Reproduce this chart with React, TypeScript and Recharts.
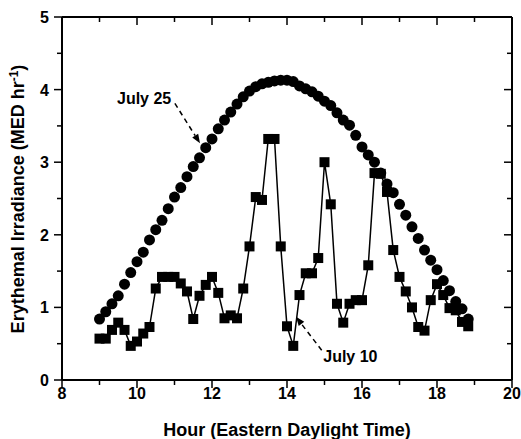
import React from 'react';
import {
  ComposedChart,
  Line,
  XAxis,
  YAxis,
  Label,
  ReferenceLine,
  ReferenceDot,
} from 'recharts';

// Sampling times (hours, EDT), every 10 minutes
const hours = [
  9.0, 9.167, 9.333, 9.5, 9.667, 9.833, 10.0, 10.167, 10.333, 10.5,
  10.667, 10.833, 11.0, 11.167, 11.333, 11.5, 11.667, 11.833, 12.0, 12.167,
  12.333, 12.5, 12.667, 12.833, 13.0, 13.167, 13.333, 13.5, 13.667, 13.833,
  14.0, 14.167, 14.333, 14.5, 14.667, 14.833, 15.0, 15.167, 15.333, 15.5,
  15.667, 15.833, 16.0, 16.167, 16.333, 16.5, 16.667, 16.833, 17.0, 17.167,
  17.333, 17.5, 17.667, 17.833, 18.0, 18.167, 18.333, 18.5, 18.667, 18.833,
];

// Clear-sky day
const july25 = [
  0.84, 0.94, 1.05, 1.16, 1.32, 1.48, 1.63, 1.76, 1.93, 2.07,
  2.2, 2.36, 2.52, 2.65, 2.8, 2.94, 3.06, 3.2, 3.32, 3.46,
  3.58, 3.69, 3.8, 3.9, 3.98, 4.04, 4.08, 4.1, 4.12, 4.13,
  4.13, 4.11, 4.05, 4.01, 3.97, 3.91, 3.84, 3.78, 3.68, 3.58,
  3.51, 3.37, 3.21, 3.1, 3.0, 2.85, 2.7, 2.58, 2.42, 2.27,
  2.11, 1.95, 1.79, 1.65, 1.52, 1.37, 1.23, 1.08, 0.98, 0.84,
];

// Cloudy day
const july10 = [
  0.57, 0.57, 0.69, 0.79, 0.69, 0.47, 0.53, 0.64, 0.73, 1.26,
  1.42, 1.42, 1.42, 1.33, 1.22, 0.84, 1.16, 1.31, 1.42, 1.2,
  0.85, 0.89, 0.85, 1.26, 1.84, 2.52, 2.48, 3.32, 3.32, 1.84,
  0.74, 0.47, 1.17, 1.47, 1.47, 1.68, 3.0, 2.42, 1.05, 0.79,
  1.05, 1.1, 1.1, 1.58, 2.85, 2.84, 2.59, 1.79, 1.42, 1.22,
  1.0, 0.73, 0.68, 1.1, 1.32, 1.17, 0.99, 0.96, 0.8, 0.74,
];

const xTicks = [8, 9, 10, 11, 12, 13, 14, 15, 16, 17, 18, 19, 20];
const yTicks = [0, 0.5, 1, 1.5, 2, 2.5, 3, 3.5, 4, 4.5, 5];
const X_MIN = 8;
const X_MAX = 20;
const Y_MIN = 0;
const Y_MAX = 5;

const data = hours.map((h, i) => ({ hour: h, july25: july25[i], july10: july10[i] }));

// Chart geometry
const CHART_W = 521;
const CHART_H = 439;
const MARGIN = { top: 17, right: 9, bottom: 0, left: 0 };
const Y_AXIS_W = 62;
const X_AXIS_H = 59;
const PLOT_L = MARGIN.left + Y_AXIS_W;
const PLOT_T = MARGIN.top;
const PLOT_W = CHART_W - MARGIN.left - MARGIN.right - Y_AXIS_W;
const PLOT_H = CHART_H - MARGIN.top - MARGIN.bottom - X_AXIS_H;
const PLOT_R = PLOT_L + PLOT_W;
const PLOT_B = PLOT_T + PLOT_H;

const FONT = '"Liberation Sans", Arial, Helvetica, sans-serif';
const INK = '#000';

const isMajorX = (v: number) => v % 2 === 0;
const isMajorY = (v: number) => Number.isInteger(v);

const BottomTick = (props: any) => {
  const { x, y, payload } = props;
  const v = payload.value;
  const major = isMajorX(v);
  return (
    <g>
      <line x1={x} y1={y} x2={x} y2={y + (major ? 8 : 5)} stroke={INK} strokeWidth={1.5} />
      {major && (
        <text x={x} y={y + 19} textAnchor="middle" fontFamily={FONT} fontWeight="bold" fontSize={16} fill={INK}>
          {v}
        </text>
      )}
    </g>
  );
};

const LeftTick = (props: any) => {
  const { x, y, payload } = props;
  const v = payload.value;
  const major = isMajorY(v);
  return (
    <g>
      <line x1={x - (major ? 8 : 5)} y1={y} x2={x} y2={y} stroke={INK} strokeWidth={1.5} />
      {major && (
        <text x={x - 13} y={y + 6} textAnchor="end" fontFamily={FONT} fontWeight="bold" fontSize={16} fill={INK}>
          {v}
        </text>
      )}
    </g>
  );
};

// Top and right edges of the box with inward mirror ticks, laid over the chart
const sx = (v: number) => PLOT_L + ((v - X_MIN) / (X_MAX - X_MIN)) * PLOT_W;
const sy = (v: number) => PLOT_B - ((v - Y_MIN) / (Y_MAX - Y_MIN)) * PLOT_H;

const FrameOverlay = () => (
  <svg
    width={CHART_W}
    height={CHART_H}
    style={{ position: 'absolute', left: 0, top: 0, pointerEvents: 'none' }}
  >
    <line x1={PLOT_L} y1={PLOT_T} x2={PLOT_R} y2={PLOT_T} stroke={INK} strokeWidth={2} />
    <line x1={PLOT_R} y1={PLOT_T} x2={PLOT_R} y2={PLOT_B} stroke={INK} strokeWidth={2} />
    {xTicks.map((t) => (
      <line
        key={`tt-${t}`}
        x1={sx(t)}
        y1={PLOT_T}
        x2={sx(t)}
        y2={PLOT_T + (isMajorX(t) ? 8 : 5)}
        stroke={INK}
        strokeWidth={1.5}
      />
    ))}
    {yTicks.map((t) => (
      <line
        key={`rt-${t}`}
        x1={PLOT_R - (isMajorY(t) ? 8 : 5)}
        y1={sy(t)}
        x2={PLOT_R}
        y2={sy(t)}
        stroke={INK}
        strokeWidth={1.5}
      />
    ))}
  </svg>
);

const SquareDot = (p: any) => {
  if (p.cx == null || p.cy == null) return null;
  return <rect key={`sq-${p.index}`} x={p.cx - 5} y={p.cy - 5} width={10} height={10} fill={INK} />;
};

const DashedArrow = (p: any) => {
  const { x1, y1, x2, y2 } = p;
  const a = Math.atan2(y2 - y1, x2 - x1);
  const len = 9;
  const half = 3.5;
  const bx = x2 - len * Math.cos(a);
  const by = y2 - len * Math.sin(a);
  const nx = -Math.sin(a);
  const ny = Math.cos(a);
  return (
    <g>
      <line x1={x1} y1={y1} x2={bx} y2={by} stroke={INK} strokeWidth={1.5} strokeDasharray="5 4" />
      <polygon
        points={`${x2},${y2} ${bx + nx * half},${by + ny * half} ${bx - nx * half},${by - ny * half}`}
        fill={INK}
      />
    </g>
  );
};

const noteText = (text: string) => (p: any) => (
  <text x={p.cx} y={p.cy + 6} textAnchor="middle" fontFamily={FONT} fontWeight="bold" fontSize={16} fill={INK}>
    {text}
  </text>
);

const XTitle = () => (
  <text x={287} y={436} textAnchor="middle" fontFamily={FONT} fontWeight="bold" fontSize={18} fill={INK}>
    Hour (Eastern Daylight Time)
  </text>
);

const YTitle = () => (
  <text
    transform="translate(24,199) rotate(-90)"
    textAnchor="middle"
    fontFamily={FONT}
    fontWeight="bold"
    fontSize={18}
    fill={INK}
  >
    Erythemal Irradiance (MED hr
    <tspan dy={-6} fontSize={12}>-1</tspan>
    <tspan dy={6}>)</tspan>
  </text>
);

const axisLine = { stroke: INK, strokeWidth: 2 };

export default function App() {
  return (
    <div style={{ position: 'absolute', left: 0, top: 0, width: CHART_W, height: CHART_H, background: '#fff' }}>
      <ComposedChart width={CHART_W} height={CHART_H} data={data} margin={MARGIN}>
        <XAxis
          dataKey="hour"
          type="number"
          domain={[X_MIN, X_MAX]}
          ticks={xTicks}
          interval={0}
          height={X_AXIS_H}
          tickLine={false}
          tickSize={0}
          tickMargin={0}
          axisLine={axisLine}
          tick={<BottomTick />}
          allowDataOverflow
        >
          <Label content={<XTitle />} />
        </XAxis>
        <YAxis
          type="number"
          domain={[Y_MIN, Y_MAX]}
          ticks={yTicks}
          interval={0}
          width={Y_AXIS_W}
          tickLine={false}
          tickSize={0}
          tickMargin={0}
          axisLine={axisLine}
          tick={<LeftTick />}
          allowDataOverflow
        >
          <Label content={<YTitle />} />
        </YAxis>

        <Line
          dataKey="july10"
          stroke={INK}
          strokeWidth={1.5}
          dot={SquareDot}
          activeDot={false}
          isAnimationActive={false}
        />
        <Line
          dataKey="july25"
          stroke="none"
          dot={{ r: 5.5, fill: INK, stroke: 'none' }}
          activeDot={false}
          isAnimationActive={false}
        />
        <ReferenceLine segment={[{ x: 11.01, y: 3.81 }, { x: 11.68, y: 3.26 }]} shape={DashedArrow} />
        <ReferenceLine segment={[{ x: 14.925, y: 0.41 }, { x: 14.24, y: 0.87 }]} shape={DashedArrow} />
        <ReferenceDot x={10.19} y={3.89} r={0} shape={noteText('July 25')} />
        <ReferenceDot x={15.69} y={0.33} r={0} shape={noteText('July 10')} />
      </ComposedChart>
      <FrameOverlay />
    </div>
  );
}
